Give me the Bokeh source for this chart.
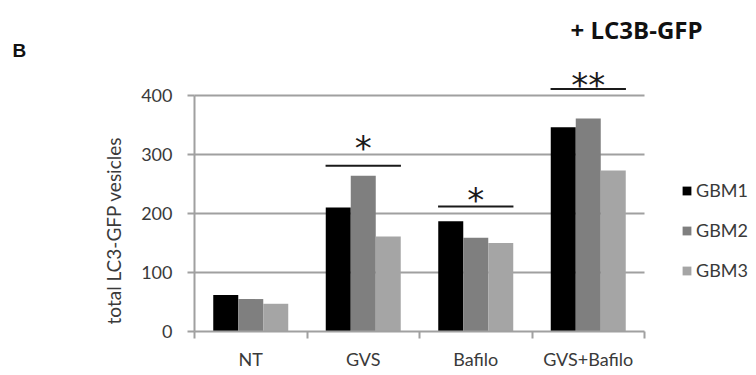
import math
from bokeh.plotting import figure
from bokeh.models import (Range1d, FixedTicker, Label, Legend, LegendItem,
                          ColumnDataSource)
from bokeh.transform import dodge
from bokeh.embed import file_html
from bokeh.resources import INLINE
from bokeh.core.properties import value

# ---- data ----
categories = ["NT", "GVS", "Bafilo", "GVS+Bafilo"]
series = ["GBM1", "GBM2", "GBM3"]
gbm1 = [62, 210, 187, 346]
gbm2 = [55, 264, 159, 361]
gbm3 = [47, 161, 150, 273]
sig_labels = ["*", "*", "**"]
sig_cats = [1, 2, 3]
sig_line_y = [281, 212, 411]
sig_star_y = [318, 230, 424]
y_ticks = [0, 100, 200, 300, 400]

colors = ["#000000", "#7f7f7f", "#a5a5a5"]
TXT = "#3a3a3a"
GRID = "#a0a0a0"
FONT = "Lato"

# ---- layout (pixels) ----
W, H = 750, 372
X0, Y0 = 194, 331          # pixel position of the data origin
PX_X, PX_Y = 112.5, 0.59   # pixels per category / per unit

xr = Range1d(-X0 / PX_X, (W - X0) / PX_X)
yr = Range1d(-(H - Y0) / PX_Y, Y0 / PX_Y)

xc = [i + 0.5 for i in range(len(categories))]
src = ColumnDataSource(dict(x=xc, GBM1=gbm1, GBM2=gbm2, GBM3=gbm3))

p = figure(width=W, height=H, x_range=xr, y_range=yr,
           output_backend="svg", toolbar_location=None, title=None,
           min_border=0)
p.outline_line_color = None
p.background_fill_color = "white"

# horizontal gridlines limited to the category span
p.xgrid.grid_line_color = None
p.ygrid.grid_line_color = None
gsrc = ColumnDataSource(dict(y=y_ticks[1:], x0=[0] * 4, x1=[len(categories)] * 4))
p.segment(x0="x0", x1="x1", y0="y", y1="y", source=gsrc, line_color=GRID, line_width=2)

bw = 0.2222
renderers = []
for k, (s, c) in enumerate(zip(series, colors)):
    r = p.vbar(x=dodge("x", (k - 1) * bw, range=p.x_range), top=s, width=bw,
               bottom=0, source=src, fill_color=c, line_color=None)
    renderers.append(r)

# significance
sx = [xc[i] for i in sig_cats]
ssrc = ColumnDataSource(dict(x=sx, x0=[v - 0.335 for v in sx], x1=[v + 0.335 for v in sx],
                             ly=sig_line_y, sy=sig_star_y, t=sig_labels))
p.segment(x0="x0", x1="x1", y0="ly", y1="ly", source=ssrc, line_color="#1a1a1a", line_width=2)
p.text(x="x", y="sy", text="t", source=ssrc, text_font=value("DejaVu Sans"),
       text_font_size="34px", text_align="center", text_baseline="middle",
       y_offset=4, text_color="#1a1a1a")

# axes
yax = p.yaxis[0]
yax.fixed_location = 0
yax.ticker = FixedTicker(ticks=y_ticks)
yax.bounds = (0, 400)
yax.major_tick_in = 0
yax.major_tick_out = 7
yax.minor_tick_line_color = None
yax.axis_line_color = GRID
yax.axis_line_width = 2
yax.major_tick_line_color = GRID
yax.major_tick_line_width = 2
yax.major_label_text_font = FONT
yax.major_label_text_font_size = "18px"
yax.major_label_text_color = TXT
yax.major_label_standoff = 15

xax = p.xaxis[0]
xax.fixed_location = 0
xax.bounds = (0, len(categories))
xax.ticker = FixedTicker(ticks=xc, minor_ticks=list(range(len(categories) + 1)))
xax.major_label_overrides = {x: c for x, c in zip(xc, categories)}
xax.major_tick_in = 0
xax.major_tick_out = 0
xax.minor_tick_in = 0
xax.minor_tick_out = 7
xax.minor_tick_line_color = GRID
xax.minor_tick_line_width = 2
xax.axis_line_color = GRID
xax.axis_line_width = 2
xax.major_label_text_font = FONT
xax.major_label_text_font_size = "18px"
xax.major_label_text_color = TXT
xax.major_label_standoff = 9

# y axis title
p.add_layout(Label(x=(113 - X0) / PX_X, y=(Y0 - 230) / PX_Y, text="total LC3-GFP vesicles",
                   angle=math.pi / 2, text_align="center", text_baseline="middle",
                   text_font=FONT, text_font_size="19px", text_color=TXT))

# legend
legend = Legend(items=[LegendItem(label=s, renderers=[r]) for s, r in zip(series, renderers)],
                location=(681, H - 290), orientation="vertical", padding=0, margin=0,
                spacing=0, label_height=40, glyph_width=11, glyph_height=11,
                label_standoff=4, border_line_color=None, background_fill_alpha=0,
                label_text_font=FONT, label_text_font_size="18px", label_text_color=TXT)
p.add_layout(legend)

# title texts
p.add_layout(Label(x=(570 - X0) / PX_X, y=(Y0 - 29) / PX_Y, text="+ LC3B-GFP",
                   text_font="Open Sans", text_font_style="bold", text_font_size="24px",
                   text_baseline="alphabetic", text_color="#111111"))
p.add_layout(Label(x=(12 - X0) / PX_X, y=(Y0 - 50) / PX_Y, text="B",
                   text_font="Liberation Sans", text_font_style="bold",
                   text_font_size="19px", text_baseline="alphabetic", text_color="#111111"))

open("out.html", "w").write(file_html(p, INLINE))
